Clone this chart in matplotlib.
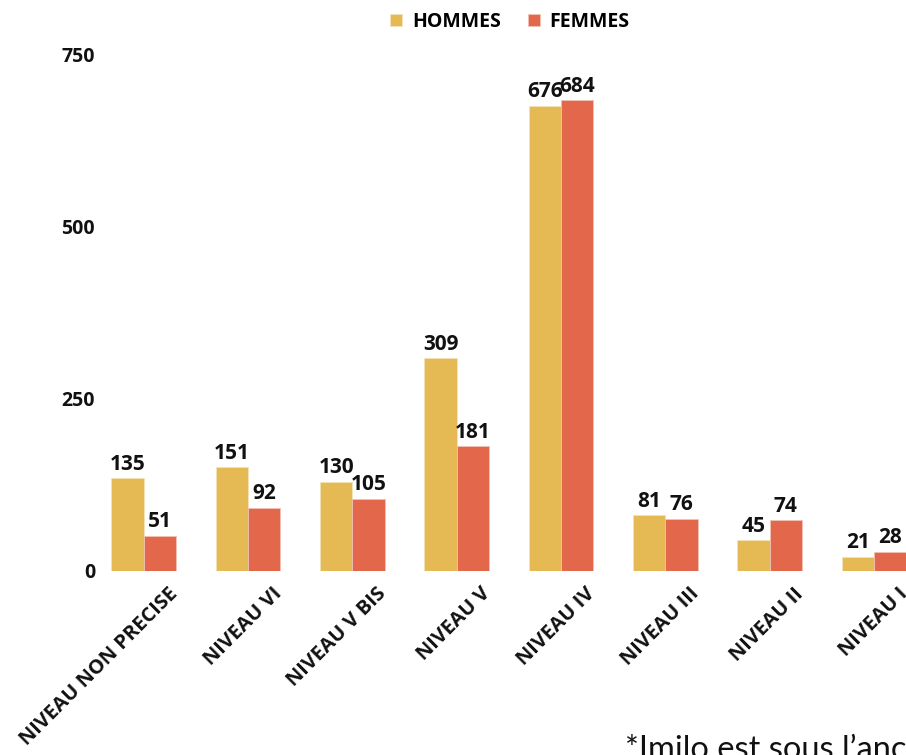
import numpy as np
import matplotlib
matplotlib.use("Agg")
import matplotlib.pyplot as plt
import matplotlib.transforms as mtransforms

categories = ["NIVEAU NON PRECISE", "NIVEAU VI", "NIVEAU V BIS", "NIVEAU V",
              "NIVEAU IV", "NIVEAU III", "NIVEAU II", "NIVEAU I"]
hommes = [135, 151, 130, 309, 676, 81, 45, 21]
femmes = [51, 92, 105, 181, 684, 76, 74, 28]
yticks = [0, 250, 500, 750]

col_h = "#E5BA55"
col_f = "#E2674B"

plt.rcParams["font.family"] = ["Open Sans", "DejaVu Sans"]

fig = plt.figure(figsize=(9.06, 7.55), dpi=100)
ax = fig.add_axes([102 / 906, (755 - 571) / 755, (906 - 102) / 906, (571 - 55) / 755])

x = np.arange(len(categories))
w = 0.31
bh = ax.bar(x - w / 2, hommes, w, color=col_h, label="HOMMES", edgecolor="#f3e2b8", linewidth=0.6)
bf = ax.bar(x + w / 2, femmes, w, color=col_f, label="FEMMES", edgecolor="#f1c2b4", linewidth=0.6)

for bars, vals in ((bh, hommes), (bf, femmes)):
    for b, v in zip(bars, vals):
        ax.text(b.get_x() + b.get_width() / 2, v + 5, str(v), ha="center", va="bottom",
                fontsize=15, fontweight="bold", color="#111111", clip_on=False)

ax.set_xlim(-0.4, 7.307)
ax.set_ylim(0, 750)
ax.set_yticks(yticks)
ax.set_yticklabels([str(t) for t in yticks], fontsize=14, fontweight="bold", color="#111111")
ax.tick_params(axis="y", length=0, pad=5)
ax.tick_params(axis="x", length=0)
for s in ax.spines.values():
    s.set_visible(False)

ax.set_xticks(x)
ax.set_xticklabels(categories, rotation=45, ha="right", va="top", rotation_mode="anchor",
                   fontsize=14.5, fontweight="bold", color="#111111")
offset = mtransforms.ScaledTranslation(24 / 100, -8 / 100, fig.dpi_scale_trans)
for lbl in ax.get_xticklabels():
    lbl.set_transform(lbl.get_transform() + offset)

fig.legend(handles=[bh, bf], labels=["HOMMES", "FEMMES"], loc="center",
           bbox_to_anchor=(510 / 906, 1 - 22 / 755), ncol=2, frameon=False,
           prop={"weight": "bold", "size": 14}, handlelength=0.6, handleheight=0.6,
           handletextpad=0.5, columnspacing=1.4)

fig.text(625 / 906, 1 - 735 / 755, "*Imilo est sous l\u2019ancienne", fontsize=23.5,
         family=["Lato", "DejaVu Sans"], color="#111111", ha="left", va="top")

fig.savefig("out.png", dpi=100)
